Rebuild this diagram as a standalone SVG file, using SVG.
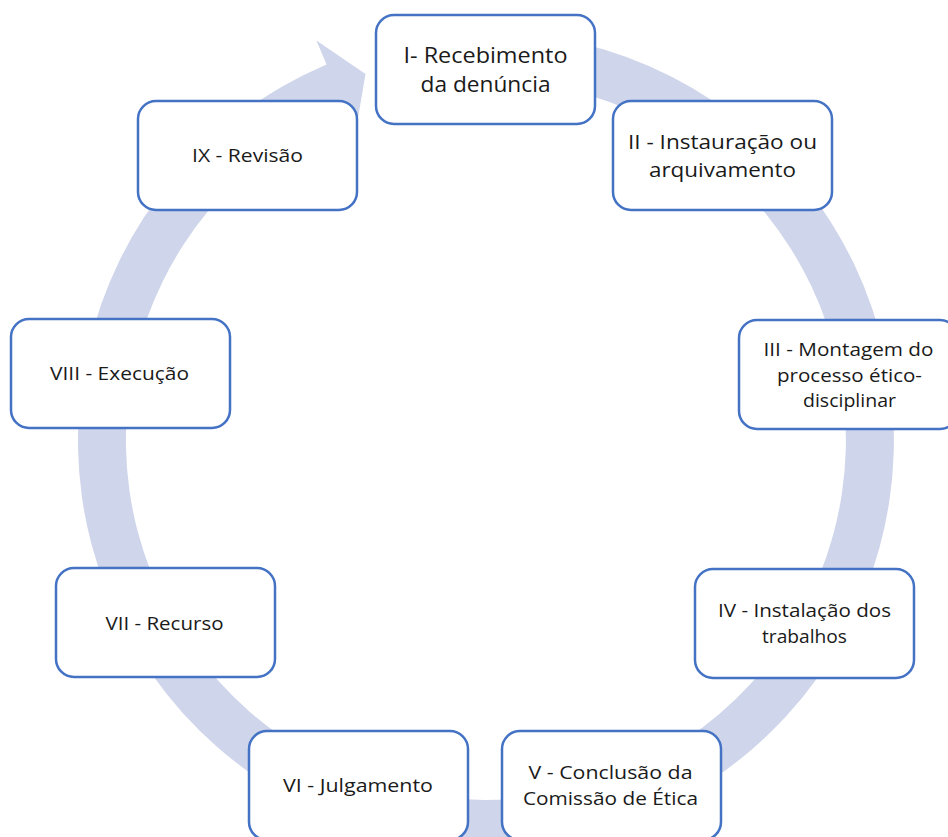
<svg xmlns="http://www.w3.org/2000/svg" width="948" height="837" viewBox="0 0 948 837">
<style>
.box{fill:#ffffff;stroke:#4472c4;stroke-width:2.5}
.t{font-family:"Open Sans","Noto Sans","Liberation Sans",sans-serif;font-size:19px;fill:#1a1a1a;text-anchor:middle}
.big{font-size:22px}
.mid{font-size:20px}
.ring{fill:#cfd5ea}
</style>
<rect width="948" height="837" fill="#ffffff"/>
<g id="connectors">
<path class="ring" d="M556.8,38.2 A408,408 0 1 1 326.6,64.4 L316.4,40.5 L365.5,74 L355.5,132.6 L345.3,108.6 A360,360 0 1 0 548.5,85.5 Z"/>
</g>
<g id="n1"><rect class="box" x="376" y="15" width="219" height="109" rx="18"/>
<text class="t big" x="485.5" y="63" textLength="164" lengthAdjust="spacingAndGlyphs">I- Recebimento</text><text class="t big" x="485.5" y="92" textLength="130" lengthAdjust="spacingAndGlyphs">da denúncia</text></g>
<g id="n2"><rect class="box" x="613" y="101" width="219" height="109" rx="18"/>
<text class="t mid" x="722.5" y="149" textLength="189" lengthAdjust="spacingAndGlyphs">II - Instauração ou</text><text class="t mid" x="722.5" y="177" textLength="147" lengthAdjust="spacingAndGlyphs">arquivamento</text></g>
<g id="n3"><rect class="box" x="739" y="320" width="219" height="109" rx="18"/>
<text class="t" x="848.5" y="356" textLength="170" lengthAdjust="spacingAndGlyphs">III - Montagem do</text><text class="t" x="849.5" y="382" textLength="145" lengthAdjust="spacingAndGlyphs">processo ético-</text><text class="t" x="849.5" y="407" textLength="93" lengthAdjust="spacingAndGlyphs">disciplinar</text></g>
<g id="n4"><rect class="box" x="695" y="569" width="219" height="109" rx="18"/>
<text class="t" x="804.5" y="617" textLength="173" lengthAdjust="spacingAndGlyphs">IV - Instalação dos</text><text class="t" x="804.5" y="643" textLength="85" lengthAdjust="spacingAndGlyphs">trabalhos</text></g>
<g id="n5"><rect class="box" x="502" y="731" width="219" height="109" rx="18"/>
<text class="t" x="610.5" y="779" textLength="164" lengthAdjust="spacingAndGlyphs">V - Conclusão da</text><text class="t" x="610.5" y="805" textLength="175" lengthAdjust="spacingAndGlyphs">Comissão de Ética</text></g>
<g id="n6"><rect class="box" x="249" y="731" width="219" height="109" rx="18"/>
<text class="t" x="358" y="792" textLength="150" lengthAdjust="spacingAndGlyphs">VI - Julgamento</text></g>
<g id="n7"><rect class="box" x="56" y="568" width="219" height="109" rx="18"/>
<text class="t" x="164.5" y="630" textLength="118" lengthAdjust="spacingAndGlyphs">VII - Recurso</text></g>
<g id="n8"><rect class="box" x="11" y="319" width="219" height="109" rx="18"/>
<text class="t" x="119.5" y="380" textLength="139" lengthAdjust="spacingAndGlyphs">VIII - Execução</text></g>
<g id="n9"><rect class="box" x="138" y="101" width="219" height="109" rx="18"/>
<text class="t" x="247.5" y="162" textLength="111" lengthAdjust="spacingAndGlyphs">IX - Revisão</text></g>
</svg>
